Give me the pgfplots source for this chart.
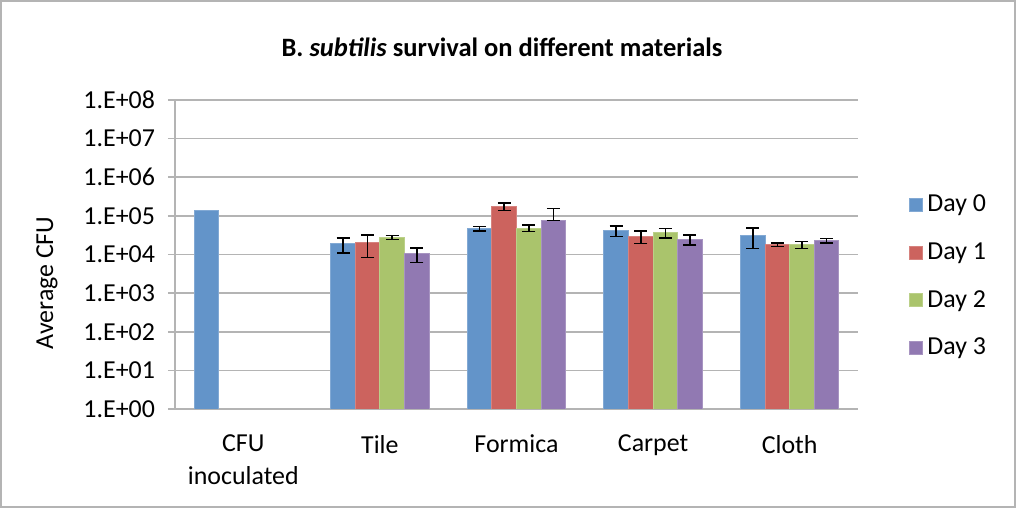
\documentclass[border=0pt]{standalone}
\usepackage{fontspec}
\setmainfont{Carlito}
\usepackage{pgfplots}
\usepackage{pgfplotstable}
\pgfplotsset{compat=1.18}

\definecolor{dzero}{RGB}{99,148,201}
\definecolor{done}{RGB}{204,99,94}
\definecolor{dtwo}{RGB}{170,196,108}
\definecolor{dthree}{RGB}{145,121,178}
\definecolor{gridc}{RGB}{180,180,180}

% x: 0 CFU inoculated, 1 Tile, 2 Formica, 3 Carpet, 4 Cloth
\pgfplotstableread{
x y ep em
1 18800 8000 8000
2 46600 6000 6000
3 42300 13000 13000
4 31300 17000 17000
}\dayzero
\pgfplotstableread{
x y ep em
1 20400 12000 12000
2 177000 38000 38000
3 30000 10500 10500
4 17900 1800 1800
}\dayone
\pgfplotstableread{
x y ep em
1 27400 3300 3300
2 48500 8700 8700
3 36700 10000 10000
4 17900 3700 3700
}\daytwo
\pgfplotstableread{
x y ep em
1 10400 4200 4200
2 77000 78000 0
3 24600 7000 7000
4 23200 3100 3100
}\daythree

\begin{document}
\begin{tikzpicture}
\useasboundingbox (0,0) rectangle (508bp,254bp);
\draw[gridc, line width=0.8bp] (0.5bp,0.5bp) rectangle (507.5bp,253.5bp);
\node[font=\fontsize{13.3}{15}\selectfont\bfseries] at (251bp,230.5bp)
  {B. \textit{subtilis} survival on different materials};

\begin{axis}[
  at={(87.5bp,49.5bp)}, anchor=south west,
  width=341.5bp, height=154.5bp, scale only axis,
  ybar, bar width=0.18,
  ymode=log, log origin=0,
  ymin=1, ymax=1e8,
  ytick={1,10,100,1000,10000,100000,1000000,10000000,100000000},
  yticklabels={1.E+00,1.E+01,1.E+02,1.E+03,1.E+04,1.E+05,1.E+06,1.E+07,1.E+08},
  yminorticks=false,
  xmin=-0.5, xmax=4.5,
  xtick={0,1,2,3,4},
  xticklabels={CFU\\inoculated,Tile,Formica,Carpet,Cloth},
  xtick style={draw=none},
  axis x line*=bottom, axis y line*=left,
  axis line style={gridc, line width=0.8bp},
  ymajorgrids, grid style={gridc, line width=0.8bp},
  tick align=outside, major tick length=3.5bp,
  ytick style={gridc, line width=0.8bp},
  ticklabel style={font=\fontsize{13}{16.5}\selectfont},
  xticklabel style={align=center, yshift=-6bp},
  yticklabel style={xshift=-3bp},
  ylabel={Average CFU},
  every axis y label/.style={at={(axis description cs:0,0.408)}, xshift=-64bp,
    rotate=90, anchor=center, font=\fontsize{13}{15}\selectfont},
  legend style={at={(1.0747,0.429)}, anchor=west, draw=none, fill=none,
    font=\fontsize{13}{15}\selectfont, row sep=10bp, inner sep=0pt},
  legend image code/.code={\fill[#1] (0bp,-3.25bp) rectangle (6.5bp,3.25bp);},
  error bars/error bar style={black, line width=0.75bp},
  error bars/error mark options={black, rotate=90, mark size=3.25bp, line width=0.75bp},
]
\addplot[fill=dzero, draw=dzero!80!white, line width=0.5bp, bar shift=-0.27,
  error bars/.cd, y dir=both, y explicit]
  table[x=x, y=y, y error plus=ep, y error minus=em] {\dayzero};
\addlegendentry{Day 0}
\addplot[fill=done, draw=done!80!white, line width=0.5bp, bar shift=-0.09,
  error bars/.cd, y dir=both, y explicit]
  table[x=x, y=y, y error plus=ep, y error minus=em] {\dayone};
\addlegendentry{Day 1}
\addplot[fill=dtwo, draw=dtwo!80!white, line width=0.5bp, bar shift=0.09,
  error bars/.cd, y dir=both, y explicit]
  table[x=x, y=y, y error plus=ep, y error minus=em] {\daytwo};
\addlegendentry{Day 2}
\addplot[fill=dthree, draw=dthree!80!white, line width=0.5bp, bar shift=0.27,
  error bars/.cd, y dir=both, y explicit]
  table[x=x, y=y, y error plus=ep, y error minus=em] {\daythree};
\addlegendentry{Day 3}
% CFU inoculated, no error bar
\addplot[fill=dzero, draw=dzero!80!white, line width=0.5bp, bar shift=-0.27, forget plot]
  coordinates {(0,140000)};
\end{axis}
\end{tikzpicture}
\end{document}
